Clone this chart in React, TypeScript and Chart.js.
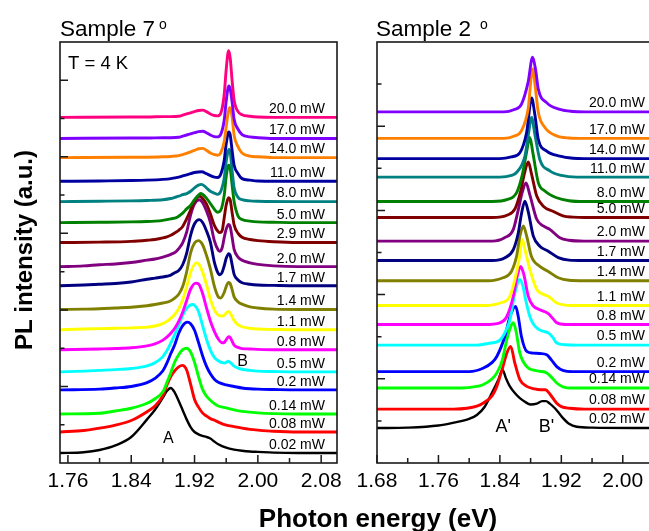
import React, { useEffect, useRef } from 'react';
import { Chart, registerables } from 'chart.js';

Chart.register(...registerables);

const FONT = "'Liberation Sans', Arial, Helvetica, sans-serif";

// Origin default colour sequence used by both panels
const seriesColors = ['#000000', '#ff0000', '#00ff00', '#0000ff', '#00ffff', '#ff00ff', '#ffff00', '#808000', '#000080', '#800080', '#800000', '#008000', '#008080', '#0000a0', '#ff8000', '#8000ff', '#ff0080'];

// ---------------- Left panel : Sample 7° ----------------
const leftLabels = ['0.02 mW', '0.08 mW', '0.14 mW', '0.2 mW', '0.5 mW', '0.8 mW', '1.1 mW', '1.4 mW', '1.7 mW', '2.0 mW', '2.9 mW', '5.0 mW', '8.0 mW', '11.0 mW', '14.0 mW', '17.0 mW', '20.0 mW'];
const leftOffsets = [0.26, 0.81, 1.28, 1.91, 2.38, 2.96, 3.48, 4.01, 4.63, 5.13, 5.76, 6.28, 6.83, 7.36, 7.98, 8.48, 9.03];
const leftXTicks = [1.76, 1.84, 1.92, 2.0, 2.08];
const leftXMinor = [1.8, 1.88, 1.96, 2.04];
const leftYMajor = [2, 4, 6, 8, 10];
const leftYMinor = [1, 3, 5, 7, 9];

// [photon energy (eV), PL intensity above the curve's offset]
const L_002 = [[1.75, 0], [1.78, 0.02], [1.8, 0.08], [1.82, 0.2], [1.84, 0.42], [1.86, 0.88], [1.87, 1.13], [1.88, 1.45], [1.885, 1.62], [1.89, 1.7], [1.895, 1.58], [1.9, 1.36], [1.905, 1.12], [1.91, 0.88], [1.915, 0.68], [1.92, 0.55], [1.925, 0.49], [1.93, 0.45], [1.935, 0.42], [1.94, 0.38], [1.945, 0.3], [1.95, 0.23], [1.96, 0.14], [1.97, 0.09], [1.98, 0.06], [1.99, 0.04], [2.0, 0.03], [2.02, 0.01], [2.05, 0], [2.1, 0]];
const L_008 = [[1.75, 0], [1.78, 0.04], [1.8, 0.1], [1.82, 0.18], [1.84, 0.3], [1.86, 0.53], [1.87, 0.68], [1.88, 0.95], [1.885, 1.22], [1.89, 1.45], [1.895, 1.6], [1.9, 1.7], [1.9045, 1.74], [1.91, 1.62], [1.915, 1.25], [1.92, 0.85], [1.925, 0.65], [1.93, 0.5], [1.935, 0.42], [1.94, 0.35], [1.945, 0.31], [1.95, 0.26], [1.96, 0.18], [1.97, 0.14], [1.98, 0.1], [1.99, 0.07], [2.0, 0.05], [2.02, 0.02], [2.05, 0], [2.1, 0]];
const L_014 = [[1.75, 0], [1.8, 0.02], [1.82, 0.08], [1.84, 0.15], [1.86, 0.28], [1.87, 0.4], [1.88, 0.58], [1.885, 0.82], [1.89, 1.08], [1.895, 1.36], [1.9, 1.55], [1.905, 1.68], [1.91, 1.72], [1.915, 1.62], [1.92, 1.35], [1.925, 0.98], [1.93, 0.65], [1.935, 0.47], [1.94, 0.36], [1.945, 0.27], [1.95, 0.21], [1.96, 0.16], [1.97, 0.11], [1.98, 0.07], [1.99, 0.05], [2.0, 0.03], [2.02, 0.01], [2.05, 0], [2.1, 0]];
const L_02 = [[1.75, 0], [1.8, 0.02], [1.82, 0.05], [1.84, 0.09], [1.86, 0.19], [1.87, 0.3], [1.88, 0.5], [1.885, 0.7], [1.89, 0.95], [1.895, 1.18], [1.9, 1.48], [1.905, 1.68], [1.911, 1.77], [1.915, 1.73], [1.92, 1.56], [1.925, 1.24], [1.93, 0.9], [1.935, 0.62], [1.94, 0.42], [1.945, 0.28], [1.95, 0.2], [1.96, 0.13], [1.97, 0.09], [1.98, 0.05], [1.99, 0.03], [2.0, 0.02], [2.02, 0.01], [2.05, 0], [2.1, 0]];
const L_05 = [[1.75, 0], [1.78, 0.02], [1.8, 0.04], [1.82, 0.06], [1.84, 0.09], [1.86, 0.16], [1.87, 0.24], [1.88, 0.4], [1.885, 0.55], [1.89, 0.75], [1.895, 0.98], [1.9, 1.22], [1.905, 1.48], [1.91, 1.66], [1.9175, 1.76], [1.92, 1.74], [1.925, 1.58], [1.93, 1.22], [1.935, 0.86], [1.94, 0.57], [1.945, 0.38], [1.95, 0.29], [1.955, 0.24], [1.9575, 0.23], [1.96, 0.25], [1.9625, 0.28], [1.965, 0.25], [1.9675, 0.2], [1.97, 0.15], [1.975, 0.1], [1.98, 0.07], [1.99, 0.04], [2.0, 0.02], [2.02, 0.01], [2.05, 0], [2.1, 0]];
const L_08 = [[1.75, 0], [1.8, 0.02], [1.82, 0.03], [1.84, 0.05], [1.86, 0.1], [1.87, 0.15], [1.88, 0.25], [1.885, 0.33], [1.89, 0.43], [1.895, 0.56], [1.9, 0.74], [1.905, 0.98], [1.91, 1.28], [1.915, 1.58], [1.9215, 1.74], [1.925, 1.72], [1.93, 1.48], [1.935, 1.1], [1.94, 0.75], [1.945, 0.48], [1.95, 0.28], [1.955, 0.18], [1.9575, 0.19], [1.96, 0.26], [1.963, 0.34], [1.965, 0.32], [1.9675, 0.22], [1.97, 0.12], [1.975, 0.06], [1.98, 0.03], [1.99, 0.02], [2.0, 0.01], [2.02, 0], [2.1, 0]];
const L_11 = [[1.75, 0], [1.78, 0.02], [1.8, 0.03], [1.82, 0.04], [1.84, 0.05], [1.86, 0.07], [1.87, 0.1], [1.88, 0.16], [1.885, 0.22], [1.89, 0.3], [1.895, 0.4], [1.9, 0.55], [1.905, 0.78], [1.91, 1.12], [1.915, 1.5], [1.922, 1.75], [1.925, 1.73], [1.93, 1.52], [1.935, 1.19], [1.94, 0.8], [1.945, 0.52], [1.95, 0.38], [1.955, 0.36], [1.9575, 0.38], [1.96, 0.44], [1.963, 0.48], [1.965, 0.44], [1.9675, 0.34], [1.97, 0.24], [1.975, 0.13], [1.98, 0.08], [1.99, 0.04], [2.0, 0.02], [2.02, 0.01], [2.05, 0], [2.1, 0]];
const L_14 = [[1.75, 0], [1.78, 0.01], [1.8, 0.02], [1.82, 0.04], [1.84, 0.06], [1.86, 0.1], [1.87, 0.13], [1.88, 0.17], [1.888, 0.21], [1.895, 0.3], [1.9, 0.4], [1.905, 0.6], [1.91, 0.98], [1.915, 1.48], [1.92, 1.74], [1.925, 1.8], [1.93, 1.7], [1.935, 1.42], [1.94, 1.06], [1.945, 0.61], [1.95, 0.33], [1.953, 0.3], [1.9575, 0.45], [1.96, 0.6], [1.963, 0.71], [1.965, 0.68], [1.9675, 0.52], [1.97, 0.33], [1.975, 0.2], [1.98, 0.14], [1.99, 0.07], [2.0, 0.04], [2.02, 0.01], [2.05, 0], [2.1, 0]];
const L_17 = [[1.75, 0], [1.78, 0.02], [1.8, 0.04], [1.82, 0.06], [1.84, 0.1], [1.86, 0.17], [1.87, 0.2], [1.88, 0.23], [1.885, 0.25], [1.89, 0.28], [1.895, 0.34], [1.9, 0.4], [1.905, 0.55], [1.91, 0.85], [1.915, 1.32], [1.92, 1.62], [1.926, 1.73], [1.93, 1.66], [1.935, 1.44], [1.94, 1.14], [1.945, 0.62], [1.95, 0.32], [1.952, 0.29], [1.955, 0.36], [1.9575, 0.52], [1.96, 0.72], [1.9633, 0.84], [1.965, 0.8], [1.9675, 0.55], [1.97, 0.3], [1.975, 0.15], [1.98, 0.08], [1.99, 0.04], [2.0, 0.02], [2.02, 0.01], [2.05, 0], [2.1, 0]];
const L_20 = [[1.75, 0], [1.78, 0.02], [1.8, 0.05], [1.82, 0.07], [1.84, 0.11], [1.86, 0.17], [1.87, 0.2], [1.88, 0.25], [1.885, 0.28], [1.89, 0.32], [1.897, 0.4], [1.9, 0.47], [1.905, 0.62], [1.91, 0.9], [1.915, 1.35], [1.92, 1.64], [1.926, 1.75], [1.93, 1.68], [1.935, 1.46], [1.94, 1.16], [1.945, 0.68], [1.95, 0.43], [1.952, 0.4], [1.955, 0.5], [1.9575, 0.76], [1.96, 0.98], [1.963, 1.1], [1.965, 1.05], [1.9675, 0.76], [1.97, 0.45], [1.975, 0.25], [1.98, 0.17], [1.99, 0.1], [2.0, 0.06], [2.02, 0.02], [2.05, 0], [2.1, 0]];
const L_29 = [[1.75, 0], [1.8, 0.01], [1.84, 0.03], [1.86, 0.06], [1.87, 0.08], [1.88, 0.12], [1.885, 0.15], [1.89, 0.19], [1.895, 0.25], [1.9, 0.32], [1.905, 0.42], [1.91, 0.62], [1.915, 0.85], [1.92, 1.08], [1.926, 1.21], [1.93, 1.16], [1.935, 1.01], [1.94, 0.75], [1.945, 0.45], [1.95, 0.28], [1.952, 0.26], [1.955, 0.32], [1.9575, 0.65], [1.96, 0.98], [1.963, 1.17], [1.965, 1.12], [1.9675, 0.78], [1.97, 0.46], [1.975, 0.24], [1.98, 0.14], [1.99, 0.08], [2.0, 0.05], [2.02, 0.02], [2.05, 0], [2.1, 0]];
const L_50 = [[1.75, 0], [1.8, 0.01], [1.84, 0.02], [1.86, 0.03], [1.87, 0.04], [1.88, 0.06], [1.885, 0.08], [1.89, 0.1], [1.897, 0.13], [1.9, 0.17], [1.905, 0.25], [1.91, 0.36], [1.915, 0.45], [1.92, 0.6], [1.925, 0.72], [1.9275, 0.76], [1.93, 0.74], [1.935, 0.64], [1.94, 0.5], [1.945, 0.35], [1.949, 0.27], [1.953, 0.32], [1.9575, 0.72], [1.96, 1.2], [1.963, 1.5], [1.965, 1.42], [1.9675, 0.98], [1.97, 0.55], [1.975, 0.17], [1.98, 0.08], [1.99, 0.04], [2.0, 0.02], [2.02, 0.01], [2.05, 0], [2.1, 0]];
const L_80 = [[1.75, 0], [1.8, 0.01], [1.84, 0.02], [1.86, 0.03], [1.88, 0.05], [1.89, 0.08], [1.895, 0.11], [1.9, 0.14], [1.905, 0.18], [1.91, 0.21], [1.915, 0.27], [1.92, 0.36], [1.925, 0.43], [1.929, 0.45], [1.935, 0.36], [1.94, 0.27], [1.945, 0.22], [1.949, 0.19], [1.953, 0.26], [1.9575, 0.62], [1.96, 1.05], [1.9635, 1.36], [1.965, 1.3], [1.9675, 0.8], [1.97, 0.36], [1.975, 0.11], [1.98, 0.05], [1.99, 0.02], [2.0, 0.01], [2.05, 0], [2.1, 0]];
const L_110 = [[1.75, 0], [1.8, 0.01], [1.84, 0.02], [1.86, 0.03], [1.88, 0.05], [1.89, 0.07], [1.895, 0.09], [1.9, 0.11], [1.905, 0.14], [1.91, 0.17], [1.915, 0.2], [1.92, 0.23], [1.929, 0.25], [1.935, 0.2], [1.94, 0.15], [1.945, 0.11], [1.949, 0.1], [1.953, 0.18], [1.9575, 0.55], [1.96, 0.98], [1.9633, 1.29], [1.965, 1.22], [1.9675, 0.8], [1.97, 0.42], [1.975, 0.2], [1.98, 0.07], [1.99, 0.03], [2.0, 0.01], [2.05, 0], [2.1, 0]];
const L_140 = [[1.75, 0], [1.84, 0.01], [1.86, 0.01], [1.88, 0.02], [1.89, 0.03], [1.9, 0.05], [1.905, 0.08], [1.91, 0.11], [1.915, 0.15], [1.92, 0.19], [1.925, 0.23], [1.9305, 0.24], [1.935, 0.19], [1.94, 0.12], [1.945, 0.08], [1.949, 0.06], [1.953, 0.12], [1.9575, 0.42], [1.96, 0.8], [1.9625, 1.18], [1.9645, 1.31], [1.9675, 1.05], [1.97, 0.58], [1.975, 0.28], [1.98, 0.12], [1.99, 0.04], [2.0, 0.02], [2.02, 0], [2.1, 0]];
const L_170 = [[1.75, 0], [1.84, 0.01], [1.86, 0.01], [1.88, 0.02], [1.89, 0.02], [1.9, 0.03], [1.905, 0.06], [1.91, 0.09], [1.915, 0.12], [1.92, 0.15], [1.925, 0.18], [1.9305, 0.19], [1.935, 0.15], [1.94, 0.09], [1.945, 0.05], [1.949, 0.04], [1.953, 0.1], [1.9575, 0.48], [1.96, 0.98], [1.9633, 1.37], [1.965, 1.3], [1.9675, 0.95], [1.97, 0.5], [1.975, 0.24], [1.98, 0.1], [1.99, 0.04], [2.0, 0.02], [2.02, 0], [2.1, 0]];
const L_200 = [[1.75, 0], [1.84, 0.01], [1.86, 0.01], [1.88, 0.02], [1.89, 0.02], [1.9, 0.03], [1.905, 0.06], [1.91, 0.09], [1.915, 0.12], [1.92, 0.15], [1.925, 0.18], [1.9305, 0.19], [1.935, 0.15], [1.94, 0.09], [1.945, 0.05], [1.949, 0.04], [1.953, 0.1], [1.9575, 0.6], [1.96, 1.25], [1.963, 1.74], [1.965, 1.56], [1.9675, 0.95], [1.97, 0.45], [1.975, 0.15], [1.98, 0.07], [1.99, 0.03], [2.0, 0.01], [2.02, 0], [2.1, 0]];
const leftSpectra = [L_002, L_008, L_014, L_02, L_05, L_08, L_11, L_14, L_17, L_20, L_29, L_50, L_80, L_110, L_140, L_170, L_200];

// ---------------- Right panel : Sample 2° ----------------
const rightLabels = ['0.02 mW', '0.08 mW', '0.14 mW', '0.2 mW', '0.5 mW', '0.8 mW', '1.1 mW', '1.4 mW', '1.7 mW', '2.0 mW', '5.0 mW', '8.0 mW', '11.0 mW', '14.0 mW', '17.0 mW', '20.0 mW'];
const rightOffsets = [0.83, 1.28, 1.78, 2.17, 2.8, 3.29, 3.74, 4.33, 4.81, 5.27, 5.83, 6.21, 6.79, 7.23, 7.71, 8.34];
const rightXTicks = [1.68, 1.76, 1.84, 1.92, 2.0];
const rightXMinor = [1.72, 1.8, 1.88, 1.96, 2.04];
const rightYMajor = [2, 4, 6, 8];
const rightYMinor = [1, 3, 5, 7, 9];

const R_002 = [[1.68, 0], [1.72, 0.01], [1.76, 0.06], [1.78, 0.13], [1.8, 0.22], [1.81, 0.31], [1.82, 0.5], [1.83, 0.85], [1.838, 1.15], [1.8435, 1.38], [1.848, 1.18], [1.853, 0.99], [1.86, 0.82], [1.866, 0.71], [1.872, 0.63], [1.88, 0.56], [1.888, 0.58], [1.895, 0.64], [1.9, 0.64], [1.905, 0.58], [1.91, 0.5], [1.915, 0.4], [1.9225, 0.23], [1.93, 0.1], [1.94, 0.03], [1.96, 0.01], [2.04, 0]];
const R_008 = [[1.68, 0], [1.78, 0], [1.797, 0.02], [1.81, 0.07], [1.818, 0.14], [1.83, 0.32], [1.836, 0.54], [1.844, 1.01], [1.849, 1.33], [1.854, 1.49], [1.8595, 1.09], [1.866, 0.7], [1.875, 0.54], [1.885, 0.48], [1.893, 0.46], [1.899, 0.46], [1.905, 0.36], [1.914, 0.14], [1.92, 0.06], [1.931, 0.02], [1.95, 0], [2.04, 0]];
const R_014 = [[1.68, 0], [1.79, 0], [1.81, 0.04], [1.818, 0.08], [1.83, 0.22], [1.836, 0.36], [1.843, 0.65], [1.849, 1.15], [1.854, 1.45], [1.8575, 1.55], [1.861, 1.35], [1.866, 0.83], [1.875, 0.51], [1.883, 0.43], [1.892, 0.4], [1.901, 0.36], [1.907, 0.26], [1.914, 0.12], [1.922, 0.03], [1.935, 0], [2.04, 0]];
const R_02 = [[1.68, 0], [1.8, 0], [1.818, 0.08], [1.83, 0.22], [1.836, 0.36], [1.8465, 0.84], [1.853, 1.3], [1.8605, 1.55], [1.864, 1.3], [1.868, 0.84], [1.875, 0.48], [1.883, 0.44], [1.892, 0.43], [1.901, 0.4], [1.907, 0.28], [1.914, 0.12], [1.922, 0.03], [1.935, 0], [2.04, 0]];
const R_05 = [[1.68, 0], [1.81, 0], [1.825, 0.04], [1.84, 0.12], [1.848, 0.35], [1.853, 0.6], [1.8595, 1.24], [1.866, 1.56], [1.87, 1.4], [1.8735, 1.08], [1.879, 0.68], [1.8835, 0.5], [1.89, 0.38], [1.896, 0.33], [1.903, 0.29], [1.909, 0.18], [1.914, 0.05], [1.925, 0.01], [1.94, 0], [2.04, 0]];
const R_08 = [[1.68, 0], [1.82, 0], [1.84, 0.04], [1.849, 0.19], [1.8575, 0.67], [1.862, 1.1], [1.867, 1.38], [1.871, 1.2], [1.877, 0.67], [1.883, 0.45], [1.892, 0.35], [1.903, 0.26], [1.909, 0.14], [1.914, 0.04], [1.925, 0], [2.04, 0]];
const R_11 = [[1.68, 0], [1.82, 0], [1.84, 0.06], [1.853, 0.22], [1.8595, 0.62], [1.865, 1.1], [1.869, 1.57], [1.873, 1.3], [1.879, 0.86], [1.888, 0.38], [1.895, 0.28], [1.903, 0.22], [1.914, 0.06], [1.925, 0.01], [1.94, 0], [2.04, 0]];
const R_14 = [[1.68, 0], [1.825, 0], [1.844, 0.07], [1.855, 0.22], [1.8617, 0.58], [1.866, 1.05], [1.8705, 1.3], [1.875, 1.05], [1.881, 0.58], [1.892, 0.34], [1.903, 0.22], [1.916, 0.07], [1.93, 0.01], [1.95, 0], [2.04, 0]];
const R_17 = [[1.68, 0], [1.83, 0], [1.846, 0.06], [1.8575, 0.26], [1.864, 0.66], [1.868, 1.1], [1.8725, 1.41], [1.877, 1.15], [1.8835, 0.58], [1.892, 0.34], [1.903, 0.22], [1.916, 0.07], [1.93, 0.01], [1.95, 0], [2.04, 0]];
const R_20 = [[1.68, 0], [1.83, 0], [1.846, 0.08], [1.8575, 0.28], [1.864, 0.75], [1.869, 1.15], [1.874, 1.38], [1.879, 1.1], [1.888, 0.52], [1.8965, 0.36], [1.905, 0.28], [1.918, 0.08], [1.93, 0.02], [1.95, 0], [2.04, 0]];
const R_50 = [[1.68, 0], [1.83, 0], [1.85, 0.06], [1.86, 0.22], [1.867, 0.62], [1.872, 1.05], [1.877, 1.32], [1.881, 1.05], [1.888, 0.51], [1.8965, 0.27], [1.909, 0.15], [1.922, 0.04], [1.935, 0.01], [1.95, 0], [2.04, 0]];
const R_80 = [[1.68, 0], [1.83, 0], [1.85, 0.05], [1.862, 0.22], [1.869, 0.62], [1.8745, 1.15], [1.879, 1.52], [1.883, 1.15], [1.89, 0.45], [1.8985, 0.25], [1.914, 0.09], [1.93, 0.02], [1.95, 0], [2.04, 0]];
const R_110 = [[1.68, 0], [1.84, 0], [1.855, 0.04], [1.8617, 0.11], [1.8726, 0.5], [1.877, 1.0], [1.8813, 1.42], [1.8855, 1.02], [1.892, 0.42], [1.905, 0.15], [1.92, 0.04], [1.94, 0], [2.04, 0]];
const R_140 = [[1.68, 0], [1.84, 0], [1.855, 0.04], [1.866, 0.14], [1.8748, 0.62], [1.8813, 1.44], [1.8855, 1.05], [1.89, 0.46], [1.901, 0.18], [1.918, 0.06], [1.935, 0.01], [1.95, 0], [2.04, 0]];
const R_170 = [[1.68, 0], [1.845, 0], [1.858, 0.05], [1.868, 0.18], [1.8767, 0.69], [1.8826, 1.65], [1.8865, 1.15], [1.89, 0.62], [1.8986, 0.26], [1.914, 0.06], [1.93, 0.01], [1.95, 0], [2.04, 0]];
const R_200 = [[1.68, 0], [1.845, 0], [1.858, 0.05], [1.868, 0.18], [1.8767, 0.7], [1.8826, 1.3], [1.8865, 1.0], [1.89, 0.54], [1.9008, 0.22], [1.918, 0.06], [1.935, 0.01], [1.95, 0], [2.04, 0]];
const rightSpectra = [R_002, R_008, R_014, R_02, R_05, R_08, R_11, R_14, R_17, R_20, R_50, R_80, R_110, R_140, R_170, R_200];

type Txt = { text: string; x: number; y: number; size: number; bold?: boolean; align?: CanvasTextAlign; baseline?: CanvasTextBaseline; rotate?: number };
type Mark = { text: string; e: number; v: number; size: number };

type PanelCfg = {
  labels: string[];
  offsets: number[];
  spectra: number[][][];
  xMin: number;
  xMax: number;
  yMax: number;
  xTicks: number[];
  xMinor: number[];
  yMajor: number[];
  yMinor: number[];
  padding: { left: number; right: number; top: number; bottom: number };
  labelInset: number;
  labelDy: number;
  marks: Mark[];
  texts: Txt[];
};

function makeDecor(cfg: PanelCfg) {
  return {
    id: 'panelDecor',
    afterDatasetsDraw(chart: any) {
      const { ctx, chartArea, scales } = chart;
      const { left, right, top, bottom } = chartArea;
      const xs = scales.x;
      const ys = scales.y;
      ctx.save();
      ctx.strokeStyle = '#1a1a1a';
      ctx.lineWidth = 1.6;
      ctx.strokeRect(left, top, right - left, bottom - top);
      ctx.lineWidth = 1.5;
      ctx.beginPath();
      cfg.xTicks.forEach((v) => { const p = xs.getPixelForValue(v); ctx.moveTo(p, bottom); ctx.lineTo(p, bottom - 8); });
      cfg.xMinor.forEach((v) => { const p = xs.getPixelForValue(v); ctx.moveTo(p, bottom); ctx.lineTo(p, bottom - 5); });
      cfg.yMajor.forEach((v) => { const p = ys.getPixelForValue(v); ctx.moveTo(left, p); ctx.lineTo(left + 8, p); });
      cfg.yMinor.forEach((v) => { const p = ys.getPixelForValue(v); ctx.moveTo(left, p); ctx.lineTo(left + 4.5, p); });
      ctx.stroke();

      ctx.fillStyle = '#000';
      ctx.font = `14px ${FONT}`;
      ctx.textAlign = 'right';
      ctx.textBaseline = 'middle';
      cfg.labels.forEach((t, i) => {
        ctx.fillText(t, right - cfg.labelInset, ys.getPixelForValue(cfg.offsets[i]) - cfg.labelDy);
      });

      cfg.marks.forEach((m) => {
        ctx.font = `${m.size}px ${FONT}`;
        ctx.textAlign = 'center';
        ctx.textBaseline = 'middle';
        ctx.fillText(m.text, xs.getPixelForValue(m.e), ys.getPixelForValue(m.v));
      });

      cfg.texts.forEach((t) => {
        ctx.save();
        ctx.font = `${t.bold ? 'bold ' : ''}${t.size}px ${FONT}`;
        ctx.textAlign = t.align || 'left';
        ctx.textBaseline = t.baseline || 'alphabetic';
        ctx.translate(t.x, t.y);
        if (t.rotate) ctx.rotate(t.rotate);
        ctx.fillText(t.text, 0, 0);
        ctx.restore();
      });
      ctx.restore();
    },
  };
}

function buildConfig(cfg: PanelCfg): any {
  const n = cfg.spectra.length;
  const datasets = cfg.spectra.map((pts, i) => ({
    label: cfg.labels[i],
    data: pts.map(([e, h]) => ({ x: e, y: cfg.offsets[i] + h })),
    borderColor: seriesColors[i],
    backgroundColor: seriesColors[i],
    borderWidth: i === 0 ? 2.4 : 2.9,
    pointRadius: 0,
    fill: false,
    cubicInterpolationMode: 'monotone',
    order: n - i,
  }));
  return {
    type: 'line',
    data: { datasets },
    options: {
      responsive: false,
      animation: false,
      devicePixelRatio: 1,
      events: [],
      layout: { padding: cfg.padding },
      plugins: { legend: { display: false }, tooltip: { enabled: false }, title: { display: false } },
      scales: {
        x: {
          type: 'linear',
          min: cfg.xMin,
          max: cfg.xMax,
          afterBuildTicks: (s: any) => { s.ticks = cfg.xTicks.map((v) => ({ value: v })); },
          afterFit: (s: any) => { s.height = 45; },
          grid: { display: false, drawTicks: false },
          border: { display: false },
          ticks: {
            autoSkip: false,
            maxRotation: 0,
            minRotation: 0,
            padding: 6,
            color: '#000',
            font: { family: FONT, size: 21 },
            callback: (v: any) => Number(v).toFixed(2),
          },
        },
        y: { type: 'linear', min: 0, max: cfg.yMax, display: false },
      },
    },
    plugins: [makeDecor(cfg)],
  };
}

const leftCfg: PanelCfg = {
  labels: leftLabels,
  offsets: leftOffsets,
  spectra: leftSpectra,
  xMin: 1.75,
  xMax: 2.1,
  yMax: 11,
  xTicks: leftXTicks,
  xMinor: leftXMinor,
  yMajor: leftYMajor,
  yMinor: leftYMinor,
  padding: { left: 60, right: 328, top: 42, bottom: 23 },
  labelInset: 12,
  labelDy: 8,
  marks: [
    { text: 'A', e: 1.887, v: 0.65, size: 16 },
    { text: 'B', e: 1.9806, v: 2.64, size: 16 },
  ],
  texts: [
    { text: 'Sample 7', x: 60, y: 36, size: 22.5 },
    { text: 'o', x: 159, y: 29, size: 14 },
    { text: 'T = 4 K', x: 68, y: 69, size: 18.5 },
    { text: 'PL intensity (a.u.)', x: 25, y: 250, size: 24, bold: true, align: 'center', baseline: 'middle', rotate: -Math.PI / 2 },
    { text: 'Photon energy (eV)', x: 378, y: 527, size: 26, bold: true, align: 'center' },
  ],
};

const rightCfg: PanelCfg = {
  labels: rightLabels,
  offsets: rightOffsets,
  spectra: rightSpectra,
  xMin: 1.68,
  xMax: 2.04,
  yMax: 10,
  xTicks: rightXTicks,
  xMinor: rightXMinor,
  yMajor: rightYMajor,
  yMinor: rightYMinor,
  padding: { left: 32, right: 11.5, top: 42, bottom: 23 },
  labelInset: 8.5,
  labelDy: 8.5,
  marks: [
    { text: "A'", e: 1.8443, v: 0.86, size: 18 },
    { text: "B'", e: 1.9008, v: 0.86, size: 18 },
  ],
  texts: [
    { text: 'Sample 2', x: 31, y: 36, size: 22.5 },
    { text: 'o', x: 135, y: 29, size: 14 },
  ],
};

export default function App() {
  const leftRef = useRef<HTMLCanvasElement | null>(null);
  const rightRef = useRef<HTMLCanvasElement | null>(null);

  useEffect(() => {
    const a = new Chart(leftRef.current as HTMLCanvasElement, buildConfig(leftCfg));
    const b = new Chart(rightRef.current as HTMLCanvasElement, buildConfig(rightCfg));
    return () => {
      a.destroy();
      b.destroy();
    };
  }, []);

  return (
    <div style={{ position: 'absolute', left: 0, top: 0, width: 649, height: 531, overflow: 'hidden', background: '#fff' }}>
      <canvas ref={leftRef} width={665} height={531} style={{ position: 'absolute', left: 0, top: 0, width: 665, height: 531 }} />
      <canvas ref={rightRef} width={320} height={531} style={{ position: 'absolute', left: 345, top: 0, width: 320, height: 531 }} />
    </div>
  );
}
